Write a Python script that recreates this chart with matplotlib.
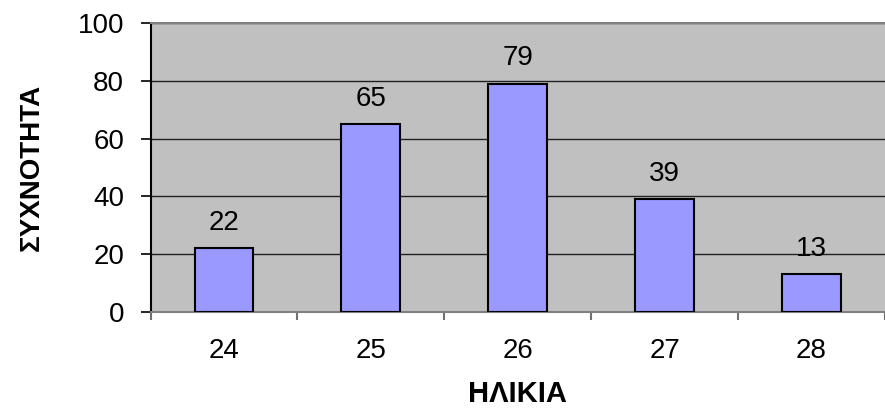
import matplotlib.pyplot as plt
import numpy as np

ages = ['24', '25', '26', '27', '28']
freq = [22, 65, 79, 39, 13]

plt.rcParams['font.family'] = ['Liberation Sans', 'DejaVu Sans']

fig = plt.figure(figsize=(8.85, 4.09), dpi=100)
ax = fig.add_axes([150.5 / 885, 97 / 409, 1 - 150.5 / 885, 289 / 409])
ax.set_facecolor('#C0C0C0')

x = np.arange(len(ages))
bars = ax.bar(x, freq, width=0.4, color='#9999FF', edgecolor='black', linewidth=1.5, zorder=3)

for xi, v in zip(x, freq):
    ax.annotate(str(v), (xi, v), xytext=(0, 9), textcoords='offset points',
                ha='center', va='bottom', fontsize=20, zorder=4)

ax.set_xlim(-0.5, len(ages) - 0.5)
ax.set_ylim(0, 100)
ax.set_yticks(range(0, 101, 20))
ax.yaxis.grid(True, color='#202020', linewidth=1, zorder=1)
ax.set_axisbelow(True)

ax.set_xticks(x)
ax.set_xticklabels(ages)
ax.set_xticks(np.arange(-0.5, len(ages), 1), minor=True)
ax.tick_params(axis='x', which='major', length=0, pad=19, labelsize=20)
ax.tick_params(axis='x', which='minor', length=6, color='#707070', width=1.5)
ax.tick_params(axis='y', length=7, width=1.2, pad=12, labelsize=20)

ax.spines['left'].set_color('black')
ax.spines['left'].set_linewidth(1.5)
ax.spines['bottom'].set_color('#808080')
ax.spines['bottom'].set_linewidth(1.5)
ax.spines['top'].set_color('#808080')
ax.spines['top'].set_linewidth(1.5)
ax.spines['right'].set_visible(False)

ax.set_xlabel('ΗΛΙΚΙΑ', fontsize=21, fontweight='bold', labelpad=11)
ax.set_ylabel('ΣΥΧΝΟΤΗΤΑ', fontsize=20, fontweight='bold', labelpad=24)

fig.savefig('out.png', dpi=100)
